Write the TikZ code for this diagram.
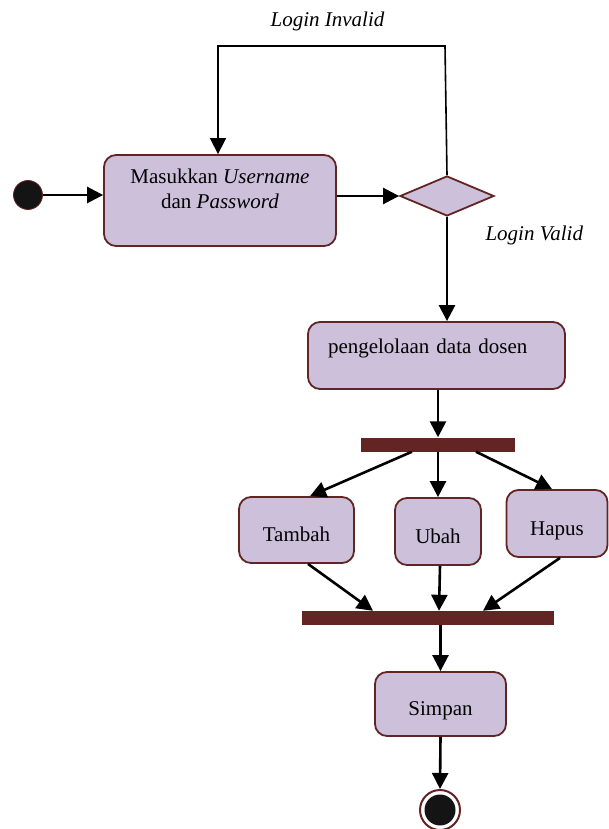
\documentclass[tikz,border=0pt]{standalone}
\usepackage{fontspec}
\setmainfont{Liberation Serif}
\usetikzlibrary{shapes.geometric,arrows.meta}
\definecolor{actfill}{RGB}{204,192,218}
\definecolor{actline}{RGB}{99,37,35}
\begin{document}
\begin{tikzpicture}[x=1pt, y=-1pt,
        font=\fontsize{21}{25}\selectfont,
        actbox/.style={draw=actline, fill=actfill, line width=1.8pt, rounded corners=12pt, inner sep=0pt, align=center},
        smallbox/.style={actbox, text height=23pt, text depth=0pt},
        forkbar/.style={fill=actline, inner sep=0pt, minimum height=14pt},
        flow/.style={line width=2.6pt, -{Triangle[length=16pt,width=16pt]}}]
        \useasboundingbox (0,0) rectangle (608,829);

        \node[circle, fill=black!92, draw=actline, line width=0.8pt, minimum size=29pt, inner sep=0pt] (start) at (28,195) {};
        \node[actbox, minimum width=232pt, minimum height=91pt, text depth=23pt] (masuk) at (220,200.5) {Masukkan \textit{Username}\\dan \textit{Password}};
        \node[diamond, draw=actline, fill=actfill, line width=1.8pt, minimum width=94pt, minimum height=40pt, inner sep=0pt] (cek) at (447,196) {};
        \node[actbox, minimum width=256pt, minimum height=67pt, text width=217pt, inner xsep=20pt, align=left, text height=14pt, text depth=19pt] (kelola) at (436.5,355.5) {pengelolaan data dosen};
        \node[forkbar, minimum width=154pt] (fork) at (438,444.5) {};
        \node[smallbox, minimum width=115pt, minimum height=66pt] (tambah) at (296.5,530) {Tambah};
        \node[smallbox, minimum width=86pt, minimum height=67pt] (ubah) at (438,531.5) {Ubah};
        \node[smallbox, minimum width=101pt, minimum height=67pt] (hapus) at (557,523.5) {Hapus};
        \node[forkbar, minimum width=252pt] (join) at (428,618) {};
        \node[smallbox, minimum width=131pt, minimum height=64pt] (simpan) at (440.5,704) {Simpan};
        \node[circle, draw=actline, fill=white, line width=2pt, minimum size=40pt, inner sep=0pt,
            path picture={\fill[black!92] (path picture bounding box.center) circle (15.5pt);}] (end) at (440,810) {};

        \node[anchor=base] (invalid) at (327.5,27) {\textit{Login Invalid}};
        \node[anchor=base west] (valid) at (482,240.5) {\textit{Login Valid}};

        \coordinate (loopR) at (445,46);
        \coordinate (loopL) at (218,46);
        \draw[flow, line width=1.6pt] (cek.north) -- (loopR) -- (loopL) -- (loopL |- masuk.north);

        \draw[flow] (start.east) -- (start.east -| masuk.west);
        \draw[flow] (masuk.east |- cek.west) -- (cek.west);
        \draw[flow] (cek.south) -- (cek.south |- kelola.north);
        \draw[flow] (fork.north |- kelola.south) -- (fork.north);
        \draw[flow] ([xshift=-26pt]fork.south) -- ([xshift=13.5pt]tambah.north);
        \draw[flow] (fork.south) -- (fork.south |- ubah.north);
        \draw[flow] ([xshift=38pt]fork.south) -- ([xshift=-5pt]hapus.north);
        \draw[flow] ([xshift=11.5pt]tambah.south) -- ([xshift=-55pt]join.north);
        \draw[flow] ([xshift=2pt]ubah.south) -- ([xshift=11pt]join.north);
        \draw[flow] ([xshift=3pt]hapus.south) -- ([xshift=55pt]join.north);
        \draw[flow] (simpan.north |- join.south) -- (simpan.north);
        \draw[flow] (simpan.south) -- (end.north);
\end{tikzpicture}
\end{document}
